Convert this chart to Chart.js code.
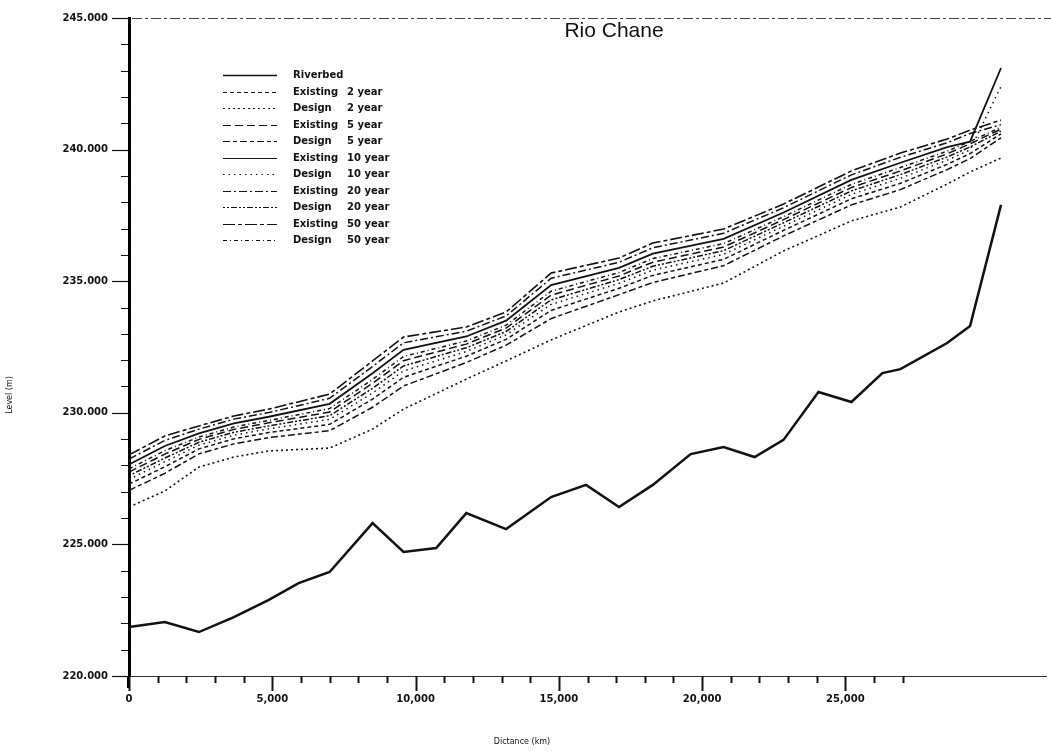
<!DOCTYPE html>
<html>
<head>
<meta charset="utf-8">
<script src="https://cdn.jsdelivr.net/npm/chart.js@4.4.1/dist/chart.umd.min.js"></script>
<style>
  html, body { margin: 0; padding: 0; background: #fff; }
  #wrap { width: 1051px; height: 752px; }
</style>
</head>
<body>
<div id="wrap"><canvas id="chart-profile" width="1051" height="752"></canvas></div>
<script>

const bedChainage = [0, 1250, 2440, 3660, 4880, 5920, 7000, 8500, 9580, 10720, 11770, 13160, 14730, 15950,
    17100, 18280, 19600, 20750, 21830, 22840, 24060, 25210, 26290, 26920, 28550, 29350, 30430];
const riverbed = [221.86, 222.05, 221.67, 222.24, 222.89, 223.53, 223.95, 225.81, 224.71, 224.86, 226.19, 225.58,
    226.80, 227.26, 226.42, 227.26, 228.43, 228.70, 228.32, 228.97, 230.79, 230.41, 231.51, 231.66, 232.65, 233.30, 237.90];

const wsChainage = [0, 1250, 2440, 3660, 4880, 7000, 8500, 9580, 11770, 13160, 14730, 17100, 18280, 20750,
    22840, 25210, 26920, 28550, 29350, 30430];
const existing2 = [227.29, 227.95, 228.63, 229.01, 229.25, 229.56, 230.52, 231.35, 232.15, 232.79, 233.89, 234.73,
    235.22, 235.83, 236.93, 238.13, 238.72, 239.44, 239.85, 240.60];
const design2 = [226.42, 227.03, 227.94, 228.32, 228.55, 228.66, 229.38, 230.14, 231.28, 231.97, 232.77, 233.83,
    234.25, 234.93, 236.15, 237.29, 237.82, 238.69, 239.15, 239.68];
const existing5 = [227.75, 228.43, 228.99, 229.37, 229.62, 230.03, 231.12, 231.98, 232.61, 233.22, 234.47, 235.20,
    235.72, 236.30, 237.34, 238.56, 239.19, 239.84, 240.22, 240.78];
const design5 = [227.05, 227.70, 228.44, 228.82, 229.06, 229.32, 230.21, 231.02, 231.91, 232.57, 233.58, 234.49,
    234.95, 235.59, 236.72, 237.90, 238.48, 239.24, 239.66, 240.45];
const existing10 = [228.04, 228.74, 229.22, 229.60, 229.85, 230.34, 231.50, 232.39, 232.90, 233.50, 234.85, 235.51,
    236.05, 236.61, 237.61, 238.85, 239.50, 240.09, 240.30, 243.10];
const design10 = [227.47, 228.14, 228.77, 229.15, 229.39, 229.75, 230.75, 231.59, 232.33, 232.96, 234.12, 234.92,
    235.42, 236.02, 237.09, 238.30, 238.91, 239.60, 239.99, 242.40];
const existing20 = [228.24, 228.95, 229.38, 229.76, 230.01, 230.55, 231.76, 232.66, 233.10, 233.68, 235.11, 235.72,
    236.27, 236.82, 237.79, 239.04, 239.71, 240.26, 240.61, 240.95];
const design20 = [227.61, 228.28, 228.88, 229.26, 229.50, 229.89, 230.93, 231.78, 232.47, 233.09, 234.29, 235.06,
    235.57, 236.16, 237.22, 238.43, 239.05, 239.72, 240.10, 240.70];
const existing50 = [228.40, 229.12, 229.50, 229.88, 230.14, 230.71, 231.97, 232.88, 233.26, 233.83, 235.31, 235.88,
    236.45, 236.98, 237.93, 239.19, 239.87, 240.40, 240.74, 241.12];
const design50 = [227.87, 228.56, 229.08, 229.46, 229.71, 230.16, 231.27, 232.14, 232.73, 233.33, 234.62, 235.33,
    235.86, 236.43, 237.45, 238.68, 239.32, 239.94, 240.31, 240.85];

const xTickLabels = [0, 5000, 10000, 15000, 20000, 25000];
const yTickLabels = [220, 225, 230, 235, 240, 245];

// ── Series styling ──────────────────────────────────────────────────────────

const series = [
    { name: 'Riverbed', period: '', x: bedChainage, y: riverbed, dash: [], width: 2.5 },
    { name: 'Existing', period: '2 year', x: wsChainage, y: existing2, dash: [4, 3], width: 1.5 },
    { name: 'Design', period: '2 year', x: wsChainage, y: design2, dash: [2, 3], width: 1.6 },
    { name: 'Existing', period: '5 year', x: wsChainage, y: existing5, dash: [8, 4], width: 1.5 },
    { name: 'Design', period: '5 year', x: wsChainage, y: design5, dash: [7, 3, 4, 3], width: 1.5 },
    { name: 'Existing', period: '10 year', x: wsChainage, y: existing10, dash: [], width: 1.8 },
    { name: 'Design', period: '10 year', x: wsChainage, y: design10, dash: [1.5, 4], width: 1.5 },
    { name: 'Existing', period: '20 year', x: wsChainage, y: existing20, dash: [8, 3, 2, 3], width: 1.5 },
    { name: 'Design', period: '20 year', x: wsChainage, y: design20, dash: [2, 2, 2, 2, 6, 2], width: 1.5 },
    { name: 'Existing', period: '50 year', x: wsChainage, y: existing50, dash: [12, 3, 4, 3], width: 1.6 },
    { name: 'Design', period: '50 year', x: wsChainage, y: design50, dash: [4, 3, 1, 3], width: 1.5 },
];

const FONT = '"DejaVu Sans", sans-serif';
const INK = '#111';

// Chart.js reserves room for overhanging tick labels; we place the plot exactly instead.
const noOverhang = (scale) => {
    scale.paddingTop = 0;
    scale.paddingBottom = 0;
    scale.paddingLeft = 0;
    scale.paddingRight = 0;
};

// ── Decorations: ticks, top border, title, legend, axis titles ─────────────

const decorations = {
    id: 'decorations',
    afterDraw(chart) {
        const { ctx, chartArea: area, scales } = chart;
        const xs = scales.x;
        const ys = scales.y;
        ctx.save();

        // dashed frame line along the top
        ctx.strokeStyle = '#444';
        ctx.lineWidth = 1;
        ctx.setLineDash([10, 3, 3, 3]);
        ctx.beginPath();
        ctx.moveTo(area.left - 16, area.top + 0.5);
        ctx.lineTo(chart.width, area.top + 0.5);
        ctx.stroke();
        ctx.setLineDash([]);

        // the heavy y axis runs a little past the x axis
        ctx.strokeStyle = '#000';
        ctx.lineWidth = 3;
        ctx.beginPath();
        ctx.moveTo(area.left - 0.5, area.bottom);
        ctx.lineTo(area.left - 0.5, area.bottom + 12);
        ctx.stroke();

        // y tick marks (minor every 1 m)
        ctx.strokeStyle = INK;
        ys.ticks.forEach((t) => {
            const py = Math.round(ys.getPixelForValue(t.value)) + 0.5;
            const major = yTickLabels.includes(t.value);
            ctx.lineWidth = major ? 1.2 : 1;
            ctx.beginPath();
            ctx.moveTo(area.left - (major ? 17 : 8), py);
            ctx.lineTo(area.left, py);
            ctx.stroke();
        });

        // x tick marks (minor every 1,000)
        xs.ticks.forEach((t) => {
            if (t.value > 27000) return;
            const px = Math.round(xs.getPixelForValue(t.value)) + 0.5;
            const major = xTickLabels.includes(t.value);
            ctx.lineWidth = 2;
            ctx.beginPath();
            ctx.moveTo(px, area.bottom);
            ctx.lineTo(px, area.bottom + (major ? 15 : 7));
            ctx.stroke();
        });

        // title inside the plot
        ctx.fillStyle = INK;
        ctx.font = '21px Arial, "Liberation Sans", sans-serif';
        ctx.textAlign = 'center';
        ctx.textBaseline = 'middle';
        ctx.fillText('Rio Chane', 614, 31);

        // legend
        ctx.font = `bold 10px ${FONT}`;
        ctx.textAlign = 'left';
        series.forEach((s, i) => {
            const y = Math.round(75 + i * 16.5) + 0.5;
            ctx.strokeStyle = INK;
            ctx.lineWidth = i === 0 ? 1.5 : 1.2;
            ctx.setLineDash(s.dash);
            ctx.beginPath();
            ctx.moveTo(223, y);
            ctx.lineTo(277, y);
            ctx.stroke();
            ctx.setLineDash([]);
            ctx.fillText(s.name, 293, y);
            if (s.period) ctx.fillText(s.period, 347, y);
        });

        // axis titles
        ctx.font = `8px ${FONT}`;
        ctx.textAlign = 'center';
        ctx.fillText('Dictance (km)', 522, 742);
        ctx.translate(10, 395);
        ctx.rotate(-Math.PI / 2);
        ctx.fillText('Level (m)', 0, 0);

        ctx.restore();
    },
};

// ── Chart ───────────────────────────────────────────────────────────────────

Chart.defaults.font.family = FONT;
Chart.defaults.color = INK;

new Chart(document.getElementById('chart-profile'), {
    type: 'line',
    data: {
        datasets: series.map((s) => ({
            label: s.period ? `${s.name} ${s.period}` : s.name,
            data: s.x.map((x, i) => ({ x, y: s.y[i] })),
            borderColor: INK,
            borderWidth: s.width,
            borderDash: s.dash,
            pointRadius: 0,
            tension: 0,
            fill: false,
        })),
    },
    options: {
        responsive: false,
        animation: false,
        layout: { padding: { left: 0, right: 5, top: 18, bottom: 0 } },
        plugins: {
            legend: { display: false },
            tooltip: { enabled: false },
        },
        scales: {
            x: {
                type: 'linear',
                min: 0,
                max: 32000,
                afterFit: (scale) => { scale.height = 76; noOverhang(scale); },
                afterBuildTicks: (scale) => {
                    const ticks = [];
                    for (let v = 0; v <= 32000; v += 1000) ticks.push({ value: v });
                    scale.ticks = ticks;
                },
                grid: { display: false, drawTicks: false },
                border: { display: true, color: '#333', width: 1, dash: [16, 3, 4, 3] },
                ticks: {
                    autoSkip: false,
                    maxRotation: 0,
                    padding: 17,
                    font: { size: 10, weight: 'bold' },
                    callback: (v) => (xTickLabels.includes(v) ? v.toLocaleString('en-US') : ''),
                },
            },
            y: {
                min: 220,
                max: 245,
                afterFit: (scale) => { scale.width = 129; noOverhang(scale); },
                afterBuildTicks: (scale) => {
                    const ticks = [];
                    for (let v = 220; v <= 245; v += 1) ticks.push({ value: v });
                    scale.ticks = ticks;
                },
                grid: { display: false, drawTicks: false },
                border: { display: true, color: '#000', width: 3 },
                ticks: {
                    autoSkip: false,
                    padding: 21,
                    font: { size: 10, weight: 'bold' },
                    callback: (v) => (yTickLabels.includes(v) ? v.toFixed(3) : ''),
                },
            },
        },
    },
    plugins: [decorations],
});
</script>
</body>
</html>
